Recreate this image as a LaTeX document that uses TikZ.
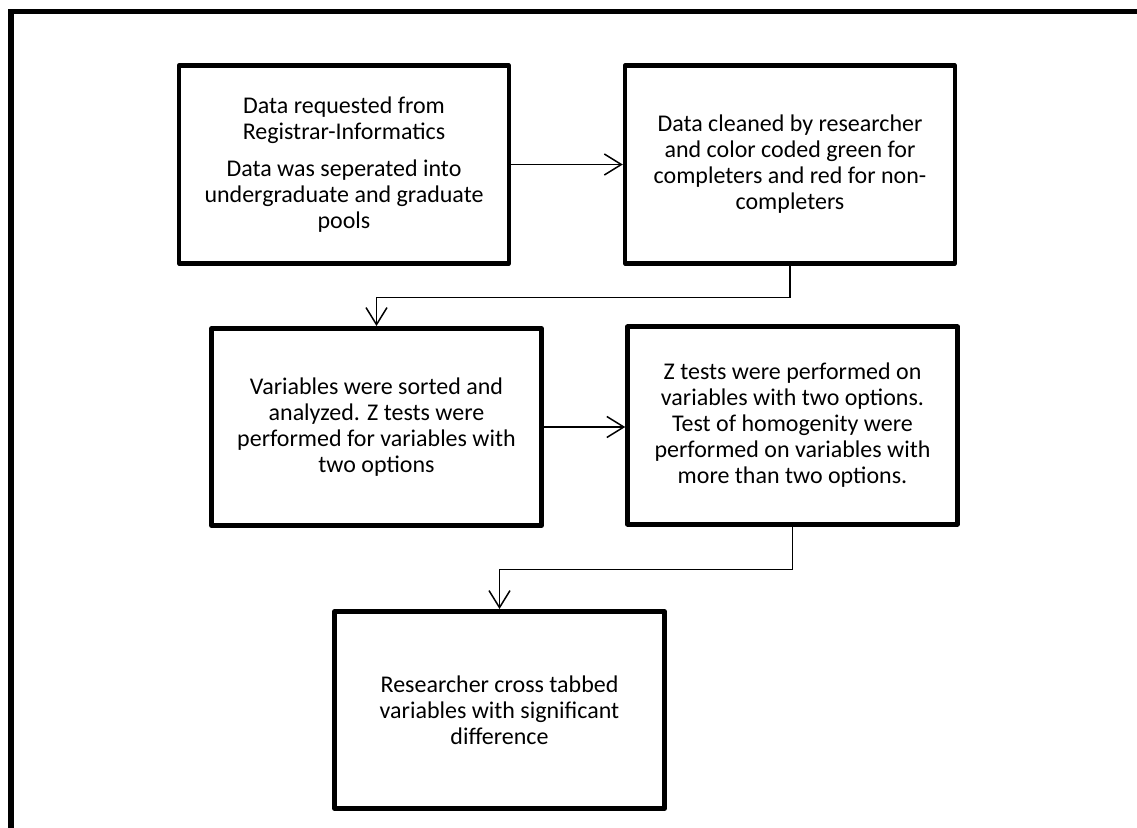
\documentclass[tikz,border=0pt]{standalone}
\usepackage{fontspec}
\setmainfont{Carlito}
\usetikzlibrary{calc,arrows.meta}

\begin{document}
\begin{tikzpicture}[x=0.02cm, y=-0.02cm]
        % Box formulae (one unit is one pixel of the page)
        \pgfmathsetmacro{\boxw}{6.6}
        \pgfmathsetmacro{\boxh}{3.95}
        \pgfmathsetmacro{\gap}{32}

        % Styles for the boxes and the arrows between them
        \tikzset{
            stepbox/.style={draw, line width=2.6pt, line join=round,
                minimum width=\boxw cm, minimum height=\boxh cm,
                inner sep=0pt, align=center,
                font=\fontsize{13.65}{14.8}\selectfont},
            flow/.style={line width=0.85pt,
                -{Straight Barb[length=0.34cm, width=0.42cm]}},
        }

        % Page size and the frame round it
        \useasboundingbox (0, 0) rectangle (1137, 828);
        \draw[line width=0.11cm] (11, 850) |- (1150, 11.5);

        % Box centres
        \coordinate (C1) at (344, 164.5);
        \coordinate (C2) at (790, 164.5);
        \coordinate (C3) at (376.5, 427);
        \coordinate (C4) at (792.5, 425.5);
        \coordinate (C5) at (499.5, 710);

        \node[stepbox] (request) at (C1) {Data requested from\\Registrar-Informatics\\[0.22cm]Data was seperated into\\undergraduate and graduate\\pools};
        \node[stepbox] (clean) at (C2) {Data cleaned by researcher\\and color coded green for\\completers and red for non-\\completers};
        \node[stepbox] (sorted) at (C3) {Variables were sorted and\\analyzed. Z tests were\\performed for variables with\\two options};
        \node[stepbox] (ztests) at (C4) {Z tests were performed on\\variables with two options.\\Test of homogenity were\\performed on variables with\\more than two options.};
        \node[stepbox] (crosstab) at (C5) {Researcher cross tabbed\\variables with significant\\difference};

        \begin{scope}[flow]
            \draw (request) -- (clean);
            \draw (clean.south) -- ++(0, \gap) -| (sorted.north);
            \draw (sorted.east) -- (sorted.east -| ztests.west);
            \draw (ztests.south) -- ++(0, 43) -| (crosstab.north);
        \end{scope}

\end{tikzpicture}
\end{document}
